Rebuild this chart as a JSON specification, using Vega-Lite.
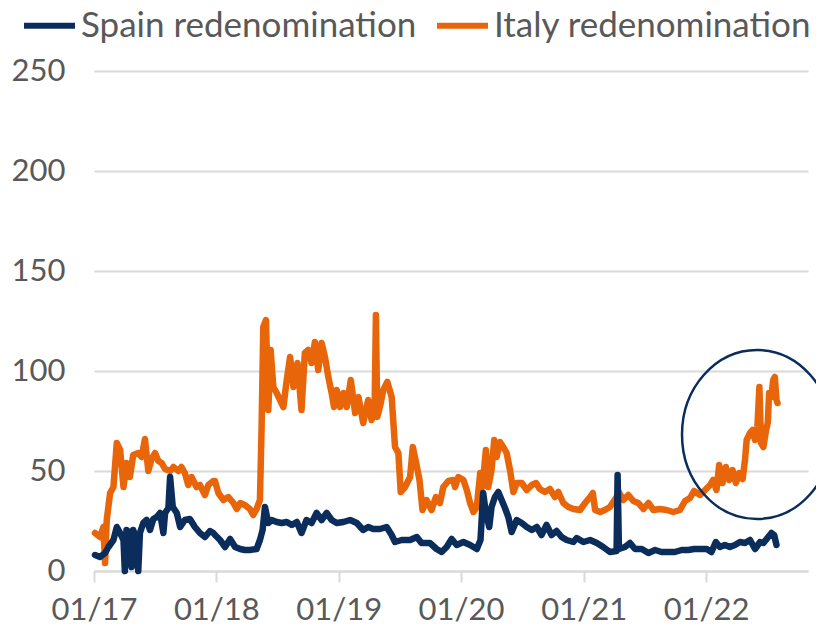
{
  "$schema": "https://vega.github.io/schema/vega-lite/v6.json",
  "width": 714,
  "height": 500,
  "autosize": {"type": "none"},
  "padding": {"left": 94, "top": 71, "right": 8, "bottom": 55},
  "background": "white",
  "config": {
    "view": {"stroke": null},
    "font": "Lato"
  },
  "datasets": {
    "italy": [
      {"d":"2017-01-04","v":19},{"d":"2017-01-19","v":17},{"d":"2017-01-29","v":22},{"d":"2017-02-03","v":4},
      {"d":"2017-02-08","v":25.5},{"d":"2017-02-18","v":39},{"d":"2017-02-28","v":42},{"d":"2017-03-10","v":64},
      {"d":"2017-03-20","v":60.5},{"d":"2017-03-30","v":42},{"d":"2017-04-08","v":54},{"d":"2017-04-18","v":47},
      {"d":"2017-04-28","v":58},{"d":"2017-05-13","v":59},{"d":"2017-05-23","v":57},{"d":"2017-06-02","v":66},
      {"d":"2017-06-12","v":50},{"d":"2017-06-22","v":56},{"d":"2017-07-02","v":59},{"d":"2017-07-12","v":55},
      {"d":"2017-07-22","v":54},{"d":"2017-08-01","v":51},{"d":"2017-08-16","v":50},{"d":"2017-08-26","v":52},
      {"d":"2017-09-10","v":50},{"d":"2017-09-19","v":52},{"d":"2017-09-29","v":49},{"d":"2017-10-09","v":43},
      {"d":"2017-10-19","v":47},{"d":"2017-11-03","v":42},{"d":"2017-11-13","v":43},{"d":"2017-11-28","v":38},
      {"d":"2017-12-08","v":43},{"d":"2017-12-23","v":45},
      {"d":"2017-12-28","v":45},{"d":"2018-01-07","v":39},{"d":"2018-01-22","v":35.5},{"d":"2018-02-06","v":37},
      {"d":"2018-02-21","v":34},{"d":"2018-03-03","v":31},{"d":"2018-03-13","v":34},{"d":"2018-03-27","v":33},
      {"d":"2018-04-11","v":31},{"d":"2018-04-21","v":28},{"d":"2018-05-01","v":31},{"d":"2018-05-11","v":35.5},
      {"d":"2018-05-16","v":72},{"d":"2018-05-21","v":122},{"d":"2018-05-29","v":125.5},{"d":"2018-06-05","v":80.5},
      {"d":"2018-06-12","v":110.5},{"d":"2018-06-20","v":92},{"d":"2018-06-30","v":89},{"d":"2018-07-10","v":85.5},
      {"d":"2018-07-20","v":82},{"d":"2018-07-30","v":95.5},{"d":"2018-08-09","v":107},{"d":"2018-08-19","v":92},
      {"d":"2018-08-31","v":104},{"d":"2018-09-12","v":80.5},{"d":"2018-09-22","v":109},{"d":"2018-10-02","v":110.5},
      {"d":"2018-10-12","v":104},{"d":"2018-10-22","v":114.5},{"d":"2018-11-01","v":100.5},{"d":"2018-11-11","v":114},
      {"d":"2018-11-21","v":107},{"d":"2018-12-01","v":97},{"d":"2018-12-11","v":89},{"d":"2018-12-18","v":82},
      {"d":"2018-12-26","v":90.5},{"d":"2019-01-05","v":82},{"d":"2019-01-15","v":89},{"d":"2019-01-25","v":82},
      {"d":"2019-02-06","v":95.5},{"d":"2019-02-19","v":79},{"d":"2019-03-01","v":87},{"d":"2019-03-15","v":74},
      {"d":"2019-03-30","v":85.5},{"d":"2019-04-09","v":75.5},{"d":"2019-04-18","v":80},{"d":"2019-04-22","v":128},
      {"d":"2019-04-26","v":77},{"d":"2019-05-04","v":82},{"d":"2019-05-14","v":90.5},{"d":"2019-05-26","v":94.5},
      {"d":"2019-06-08","v":87},{"d":"2019-06-18","v":62},{"d":"2019-06-28","v":59},{"d":"2019-07-05","v":39.5},
      {"d":"2019-07-18","v":42},{"d":"2019-08-02","v":47},{"d":"2019-08-10","v":62},{"d":"2019-08-20","v":54},
      {"d":"2019-08-30","v":45.5},{"d":"2019-09-08","v":30.5},{"d":"2019-09-20","v":35.5},{"d":"2019-10-05","v":30.5},
      {"d":"2019-10-18","v":37},{"d":"2019-10-30","v":34},{"d":"2019-11-09","v":42},{"d":"2019-11-24","v":45},
      {"d":"2019-12-09","v":45.5},
      {"d":"2019-12-14","v":42},{"d":"2019-12-24","v":47},{"d":"2020-01-08","v":45.5},{"d":"2020-01-18","v":40.5},
      {"d":"2020-01-28","v":34},{"d":"2020-02-07","v":29.5},{"d":"2020-02-17","v":32},{"d":"2020-02-27","v":49},
      {"d":"2020-03-05","v":42},{"d":"2020-03-15","v":60.5},{"d":"2020-03-22","v":42},{"d":"2020-04-01","v":50.5},
      {"d":"2020-04-09","v":65.5},{"d":"2020-04-16","v":57},{"d":"2020-04-26","v":64.5},{"d":"2020-05-06","v":62},
      {"d":"2020-05-16","v":59},{"d":"2020-05-26","v":50.5},{"d":"2020-06-05","v":39.5},{"d":"2020-06-15","v":44},
      {"d":"2020-06-30","v":44},{"d":"2020-07-15","v":40.5},{"d":"2020-07-30","v":43},{"d":"2020-08-12","v":44},
      {"d":"2020-08-23","v":41},{"d":"2020-09-07","v":39.5},{"d":"2020-09-22","v":41},{"d":"2020-10-07","v":37},
      {"d":"2020-10-17","v":39.5},{"d":"2020-11-01","v":34},{"d":"2020-11-16","v":32},{"d":"2020-12-01","v":31},
      {"d":"2020-12-21","v":30.5},{"d":"2021-01-05","v":34},{"d":"2021-01-20","v":37},{"d":"2021-01-28","v":39},
      {"d":"2021-02-04","v":30.5},{"d":"2021-02-19","v":29.5},{"d":"2021-03-05","v":30.5},{"d":"2021-03-20","v":32},
      {"d":"2021-04-09","v":37},{"d":"2021-04-14","v":40},{"d":"2021-04-29","v":35.5},{"d":"2021-05-14","v":38},
      {"d":"2021-05-29","v":35},{"d":"2021-06-13","v":34},{"d":"2021-06-28","v":31},{"d":"2021-07-13","v":34},
      {"d":"2021-07-28","v":30.5},{"d":"2021-08-16","v":31},{"d":"2021-09-05","v":30.5},{"d":"2021-09-25","v":29.5},
      {"d":"2021-10-15","v":30.5},{"d":"2021-10-30","v":35},{"d":"2021-11-14","v":36.5},{"d":"2021-11-26","v":40},
      {"d":"2021-12-14","v":38},{"d":"2021-12-29","v":40.5},{"d":"2022-01-13","v":43},{"d":"2022-01-22","v":45.5},
      {"d":"2022-02-01","v":40.5},{"d":"2022-02-09","v":53},{"d":"2022-02-19","v":44},{"d":"2022-03-01","v":52},
      {"d":"2022-03-11","v":45.5},{"d":"2022-03-21","v":50.5},{"d":"2022-03-31","v":44},{"d":"2022-04-10","v":49},
      {"d":"2022-04-20","v":46},{"d":"2022-04-27","v":55.5},{"d":"2022-05-02","v":65.5},{"d":"2022-05-12","v":69},
      {"d":"2022-05-20","v":70.5},{"d":"2022-05-27","v":65.5},{"d":"2022-06-03","v":72},{"d":"2022-06-09","v":92},
      {"d":"2022-06-14","v":64},{"d":"2022-06-21","v":62},{"d":"2022-06-29","v":70.5},{"d":"2022-07-04","v":74},
      {"d":"2022-07-08","v":89},{"d":"2022-07-15","v":87},{"d":"2022-07-20","v":95.5},{"d":"2022-07-25","v":97},
      {"d":"2022-07-30","v":85.5},{"d":"2022-08-02","v":84}
    ],
    "spain": [
      {"d":"2017-01-04","v":8},{"d":"2017-01-19","v":7},{"d":"2017-02-03","v":9},{"d":"2017-02-13","v":12},
      {"d":"2017-02-28","v":15.5},{"d":"2017-03-10","v":22},{"d":"2017-03-20","v":19},{"d":"2017-03-30","v":15.5},
      {"d":"2017-04-03","v":0},{"d":"2017-04-08","v":20.5},{"d":"2017-04-18","v":19},{"d":"2017-04-23","v":2},
      {"d":"2017-04-28","v":20.5},{"d":"2017-05-08","v":15.5},{"d":"2017-05-13","v":0},{"d":"2017-05-18","v":19},
      {"d":"2017-05-28","v":24},{"d":"2017-06-07","v":25.5},{"d":"2017-06-17","v":20.5},{"d":"2017-06-27","v":26},
      {"d":"2017-07-07","v":27},{"d":"2017-07-17","v":29},{"d":"2017-07-27","v":19},{"d":"2017-08-01","v":29},
      {"d":"2017-08-11","v":31.5},{"d":"2017-08-16","v":47},{"d":"2017-08-24","v":32},{"d":"2017-09-05","v":29},
      {"d":"2017-09-15","v":22},{"d":"2017-09-29","v":25.5},{"d":"2017-10-14","v":26},{"d":"2017-10-29","v":22},
      {"d":"2017-11-13","v":19},{"d":"2017-11-28","v":17},{"d":"2017-12-13","v":20},{"d":"2017-12-23","v":19},
      {"d":"2017-12-28","v":18},{"d":"2018-01-12","v":15.5},{"d":"2018-01-27","v":12},{"d":"2018-02-11","v":16},
      {"d":"2018-02-26","v":12},{"d":"2018-03-13","v":11},{"d":"2018-03-27","v":10.5},{"d":"2018-04-11","v":10.5},
      {"d":"2018-05-01","v":11},{"d":"2018-05-11","v":15.5},{"d":"2018-05-19","v":20.5},{"d":"2018-05-26","v":32},
      {"d":"2018-06-05","v":24},{"d":"2018-06-15","v":25.5},{"d":"2018-06-30","v":24.5},{"d":"2018-07-15","v":24},
      {"d":"2018-07-30","v":24.5},{"d":"2018-08-14","v":23},{"d":"2018-08-29","v":24.5},{"d":"2018-09-12","v":19},
      {"d":"2018-09-27","v":25.5},{"d":"2018-10-12","v":24},{"d":"2018-10-27","v":29},{"d":"2018-11-11","v":25.5},
      {"d":"2018-11-26","v":29},{"d":"2018-12-11","v":25.5},
      {"d":"2018-12-26","v":24},{"d":"2019-01-15","v":24.5},{"d":"2019-02-04","v":25.5},{"d":"2019-02-24","v":24},
      {"d":"2019-03-15","v":20.5},{"d":"2019-03-30","v":22},{"d":"2019-04-14","v":21},{"d":"2019-05-04","v":21},
      {"d":"2019-05-24","v":22},{"d":"2019-06-08","v":18},{"d":"2019-06-18","v":14.5},{"d":"2019-07-08","v":15.5},
      {"d":"2019-08-02","v":15.5},{"d":"2019-08-22","v":17},{"d":"2019-09-05","v":14},{"d":"2019-09-30","v":14},
      {"d":"2019-10-20","v":11},{"d":"2019-11-04","v":9.5},{"d":"2019-11-19","v":12},{"d":"2019-12-04","v":16},
      {"d":"2019-12-19","v":13},{"d":"2020-01-08","v":14.5},{"d":"2020-01-28","v":13},{"d":"2020-02-17","v":11},
      {"d":"2020-02-28","v":15.5},{"d":"2020-03-07","v":39},{"d":"2020-03-15","v":29},{"d":"2020-03-25","v":22},
      {"d":"2020-04-01","v":32},{"d":"2020-04-11","v":37},{"d":"2020-04-21","v":39.5},{"d":"2020-05-01","v":35.5},
      {"d":"2020-05-11","v":31.5},{"d":"2020-05-21","v":27},{"d":"2020-05-31","v":19.5},{"d":"2020-06-15","v":25.5},
      {"d":"2020-06-30","v":24},{"d":"2020-07-15","v":22},{"d":"2020-07-30","v":20.5},{"d":"2020-08-14","v":22},
      {"d":"2020-08-28","v":18},{"d":"2020-09-12","v":23},{"d":"2020-09-27","v":18},{"d":"2020-10-12","v":20},
      {"d":"2020-10-27","v":17},{"d":"2020-11-11","v":15.5},{"d":"2020-12-01","v":14.5},
      {"d":"2020-12-11","v":16.5},{"d":"2020-12-31","v":14.5},{"d":"2021-01-20","v":15.5},{"d":"2021-02-09","v":14},
      {"d":"2021-02-28","v":12},{"d":"2021-03-20","v":9.5},{"d":"2021-04-09","v":10},{"d":"2021-04-12","v":48},
      {"d":"2021-04-16","v":11},{"d":"2021-05-04","v":12},{"d":"2021-05-19","v":14},{"d":"2021-06-03","v":11},
      {"d":"2021-06-23","v":11},{"d":"2021-07-13","v":9},{"d":"2021-08-02","v":10.5},{"d":"2021-08-21","v":9.5},
      {"d":"2021-09-10","v":9.5},{"d":"2021-09-30","v":9.5},{"d":"2021-10-20","v":10.5},{"d":"2021-11-09","v":10.5},
      {"d":"2021-11-26","v":11},{"d":"2021-12-14","v":11},{"d":"2022-01-03","v":11},{"d":"2022-01-17","v":9.5},
      {"d":"2022-01-30","v":14.5},{"d":"2022-02-11","v":12},{"d":"2022-02-26","v":13},{"d":"2022-03-13","v":12},
      {"d":"2022-03-28","v":13},{"d":"2022-04-12","v":14.5},{"d":"2022-04-27","v":14},{"d":"2022-05-12","v":15.5},
      {"d":"2022-05-27","v":11},{"d":"2022-06-11","v":14.5},{"d":"2022-06-21","v":14},{"d":"2022-07-03","v":16.5},
      {"d":"2022-07-15","v":19},{"d":"2022-07-23","v":18},{"d":"2022-07-30","v":13}
    ],
    "circle": [{"d":"2022-06-02","v":68.25}]
  },
  "encoding": {
    "x": {
      "field": "d", "type": "temporal",
      "scale": {"type": "utc", "domain": [{"year": 2017, "month": 1, "date": 1, "utc": true}, {"year": 2022, "month": 11, "date": 1, "utc": true}]},
      "axis": {
        "title": null, "format": "%m/%y",
        "values": [
          {"year": 2017, "month": 1, "date": 1, "utc": true},
          {"year": 2018, "month": 1, "date": 1, "utc": true},
          {"year": 2019, "month": 1, "date": 1, "utc": true},
          {"year": 2020, "month": 1, "date": 1, "utc": true},
          {"year": 2021, "month": 1, "date": 1, "utc": true},
          {"year": 2022, "month": 1, "date": 1, "utc": true}
        ],
        "grid": false,
        "domainColor": "#d9d9d9", "domainWidth": 2,
        "tickColor": "#d9d9d9", "tickWidth": 2, "tickSize": 11,
        "labelFont": "Lato", "labelFontSize": 31, "labelColor": "#595959",
        "labelPadding": 13, "labelFlush": false, "labelOverlap": false
      }
    },
    "y": {
      "field": "v", "type": "quantitative",
      "scale": {"domain": [0, 250], "nice": false},
      "axis": {
        "title": null, "values": [0, 50, 100, 150, 200, 250],
        "grid": true, "gridColor": "#d9d9d9", "gridWidth": 2,
        "domain": false, "ticks": false, "tickSize": 0,
        "labelFont": "Lato", "labelFontSize": 31, "labelColor": "#595959",
        "labelPadding": 29
      }
    }
  },
  "layer": [
    {
      "data": {"name": "italy"},
      "mark": {"type": "line", "strokeWidth": 6.5, "strokeCap": "round", "strokeJoin": "round"},
      "encoding": {
        "color": {
          "datum": "Italy redenomination",
          "scale": {"domain": ["Spain redenomination", "Italy redenomination"], "range": ["#0A2D5C", "#E8650A"]},
          "legend": {
            "title": null, "orient": "none", "direction": "horizontal",
            "legendX": -73, "legendY": -74, "padding": 0,
            "symbolType": "stroke", "symbolStrokeWidth": 6, "symbolSize": 2601,
            "labelFont": "Lato", "labelFontSize": 35, "labelColor": "#595959",
            "labelLimit": 500, "labelOffset": 3, "columnPadding": 8
          }
        }
      }
    },
    {
      "data": {"name": "spain"},
      "mark": {"type": "line", "strokeWidth": 6.5, "strokeCap": "round", "strokeJoin": "round"},
      "encoding": {
        "color": {"datum": "Spain redenomination"}
      }
    },
    {
      "data": {"name": "circle"},
      "mark": {
        "type": "point",
        "shape": "M -0.888 0 A 0.888 1 0 1 1 0.888 0 A 0.888 1 0 1 1 -0.888 0 Z",
        "size": 28561, "filled": false, "stroke": "#0A2D5C", "strokeWidth": 2.5, "opacity": 1
      }
    }
  ]
}
